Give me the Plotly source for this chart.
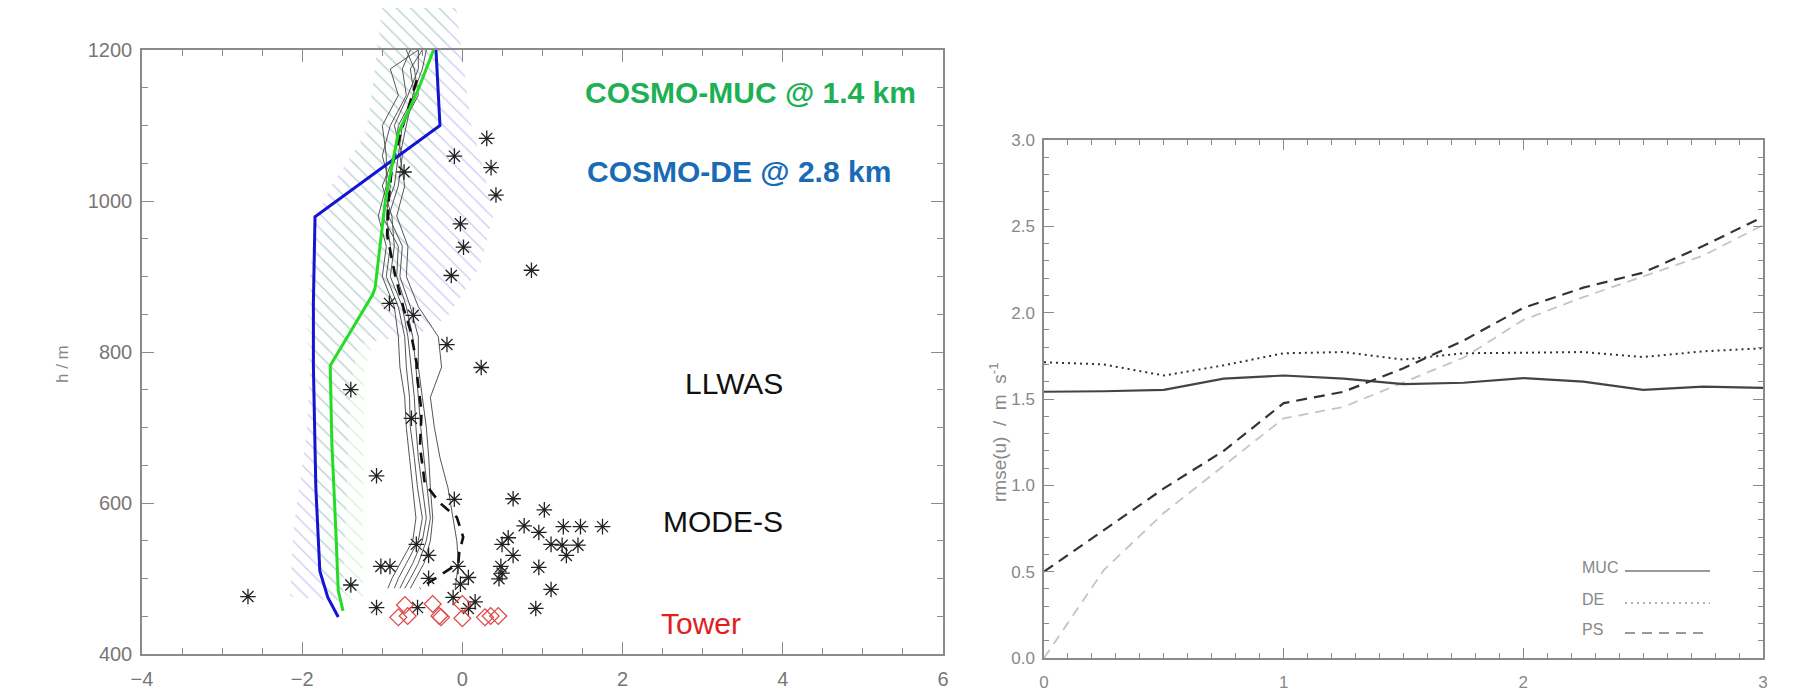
import plotly.graph_objects as go

# ---------------- Left panel data ----------------
# Ensemble spread bands (polygon outlines: left edge top->bottom, then right edge bottom->top)
de_band_u = [-1.0, -1.19, -1.65, -1.82, -1.9, -1.88, -1.94, -2.11, -2.15,
             -1.5, -1.45, -1.4, -1.3, -0.53, -0.19, 0.22, 0.38, 0.26, 0.11, -0.08]
de_band_h = [1258, 1090, 1019, 979, 913, 829, 697, 564, 476,
             470, 600, 750, 810, 825, 846, 913, 979, 1045, 1100, 1258]
muc_band_u = [-0.95, -1.2, -1.6, -1.9, -1.95, -1.85, -1.8, -1.75,
              -1.24, -1.24, -1.22, -1.0, -0.75, -0.45, -0.3, -0.15]
muc_band_h = [1258, 1100, 1000, 900, 830, 700, 560, 476,
              470, 600, 780, 840, 900, 1000, 1100, 1258]

# Model mean profiles
de_u = [-0.33, -0.28, -1.84, -1.86, -1.86, -1.83, -1.78, -1.68, -1.55]
de_h = [1200, 1100, 979, 867, 780, 621, 510, 475, 449]
muc_u = [-0.36, -0.55, -0.80, -0.96, -1.09, -1.12, -1.65, -1.63, -1.58, -1.55, -1.49]
muc_h = [1200, 1148, 1090, 1002, 885, 876, 782, 680, 563, 484, 457]

# Observation ensemble (thin grey) and its mean (dashed)
ens_h = [1200, 1175, 1140, 1100, 1060, 1020, 980, 940, 900, 860, 820,
         780, 740, 700, 660, 620, 580, 550, 520, 500, 487]
ens_1 = [-0.55, -0.90, -0.80, -1.00, -0.95, -0.95, -1.05, -0.95, -1.00, -0.85, -0.80,
         -0.78, -0.72, -0.70, -0.66, -0.62, -0.58, -0.62, -0.78, -0.88, -0.93]
ens_2 = [-0.65, -0.75, -0.70, -0.90, -1.00, -0.90, -0.95, -0.90, -0.95, -0.80, -0.72,
         -0.70, -0.66, -0.65, -0.60, -0.56, -0.50, -0.55, -0.70, -0.80, -0.85]
ens_3 = [-0.50, -0.65, -0.60, -0.80, -0.85, -1.00, -0.88, -0.85, -0.90, -0.75, -0.68,
         -0.64, -0.60, -0.58, -0.55, -0.50, -0.45, -0.50, -0.62, -0.72, -0.78]
ens_4 = [-0.70, -0.60, -0.55, -0.75, -0.80, -0.85, -1.00, -0.80, -0.82, -0.70, -0.62,
         -0.58, -0.55, -0.52, -0.48, -0.44, -0.40, -0.45, -0.55, -0.65, -0.72]
ens_5 = [-0.55, -0.55, -0.68, -0.85, -0.75, -0.80, -0.92, -0.75, -0.78, -0.65, -0.55,
         -0.55, -0.50, -0.45, -0.42, -0.40, -0.37, -0.40, -0.48, -0.58, -0.65]
ens_6 = [-0.45, -0.50, -0.62, -0.70, -0.78, -0.72, -0.82, -0.68, -0.70, -0.55, -0.30,
         -0.26, -0.40, -0.35, -0.28, -0.18, -0.12, -0.07, -0.05, -0.07, -0.09]
mean_u = [-0.57, -0.77, -0.88, -0.92, -0.94, -0.84, -0.73, -0.65, -0.57, -0.57,
          -0.51, -0.53, -0.50, -0.47, -0.28, -0.07, 0.01, -0.04, -0.05, -0.24, -0.53]
mean_h = [1160, 1090, 1045, 1002, 955, 902, 856, 829, 785, 772,
          721, 674, 651, 626, 600, 581, 555, 534, 520, 507, 487]

# MODE-S observations (asterisks)
modes_u = [0.304, -0.10, 0.358, -0.728, 0.419, -0.025, 0.014, -0.139, 0.862, -0.911,
           -0.613, -0.193, 0.235, -1.393, -0.636, -1.072, -0.101, 0.633, 1.023, 0.771,
           1.26, 1.474, 1.749, 0.954, 0.572, 0.495, 1.107, 1.245, 1.443, -0.575,
           0.633, 1.298, -0.422, -1.018, -0.904, -0.055, 0.48, 0.954, 0.495, 0.457,
           0.075, -0.422, -0.025, -1.393, 1.107, -0.116, -2.677, 0.159, -1.072, -0.56,
           0.075, 0.916]
modes_h = [1082.9, 1059.4, 1044.2, 1038.4, 1007.9, 969.8, 938.8, 901.3, 908.3, 864.4,
           848.6, 809.9, 779.5, 750.2, 712.2, 636.0, 604.9, 605.6, 590.9, 569.8,
           568.7, 568.7, 568.7, 561.0, 554.0, 545.2, 545.2, 544.1, 544.1, 545.2,
           530.6, 530.6, 530.6, 516.0, 516.0, 516.0, 516.0, 514.8, 507.2, 499.6,
           501.3, 500.1, 492.5, 491.4, 485.5, 474.9, 476.1, 469.1, 461.5, 461.5,
           460.3, 460.3]

# Tower observations (diamonds)
tower_u = [-0.717, -0.80, -0.683, -0.371, -0.288, -0.267, -0.001, -0.001, 0.282, 0.353, 0.448]
tower_h = [464.9, 448.6, 450.3, 466.2, 450.3, 448.6, 466.2, 447.3, 448.6, 450.3, 450.3]

# ---------------- Right panel data ----------------
dist = [0, 0.25, 0.5, 0.75, 1.0, 1.25, 1.5, 1.75, 2.0, 2.25, 2.5, 2.75, 3.0]
rmse_muc = [1.542, 1.545, 1.553, 1.618, 1.636, 1.618, 1.586, 1.594, 1.621, 1.601, 1.553, 1.572, 1.564]
rmse_de = [1.713, 1.70, 1.636, 1.695, 1.765, 1.772, 1.728, 1.765, 1.768, 1.772, 1.743, 1.776, 1.794]
rmse_ps = [0.50, 0.741, 0.982, 1.20, 1.476, 1.542, 1.678, 1.838, 2.028, 2.145, 2.232, 2.386, 2.555]
rmse_ps2 = [0.0, 0.51, 0.84, 1.114, 1.388, 1.454, 1.596, 1.739, 1.958, 2.09, 2.21, 2.33, 2.507]

legend_names = ["MUC", "DE", "PS"]
legend_dash = ["solid", "2px,4px", "10px,7px"]

# ---------------- Figure ----------------
# The page body has an 8px margin, so the figure is placed at page (8, 8).
OFF = 8
W, H = 1781, 686


def px(x):
    return (x - OFF) / W


def py(y):
    return 1 - (y - OFF) / H


fig = go.Figure()

# hatched bands on an invisible axis pair that extends above the plot box
fig.add_trace(go.Scatter(x=de_band_u, y=de_band_h, xaxis="x", yaxis="y", mode="none",
                         fill="toself", fillcolor="rgba(255,255,255,0)",
                         fillpattern=dict(shape="\\", fgcolor="rgb(150,150,238)",
                                          bgcolor="rgba(255,255,255,0)", size=10, solidity=0.13),
                         hoverinfo="skip", showlegend=False))
fig.add_trace(go.Scatter(x=muc_band_u, y=muc_band_h, xaxis="x", yaxis="y", mode="none",
                         fill="toself", fillcolor="rgba(255,255,255,0)",
                         fillpattern=dict(shape="\\", fgcolor="rgb(170,232,170)",
                                          bgcolor="rgba(255,255,255,0)", size=10, solidity=0.13),
                         hoverinfo="skip", showlegend=False))

for e in [ens_1, ens_2, ens_3, ens_4, ens_5, ens_6]:
    fig.add_trace(go.Scatter(x=e, y=ens_h, xaxis="x2", yaxis="y2", mode="lines",
                             line=dict(color="#555555", width=1), showlegend=False))
fig.add_trace(go.Scatter(x=mean_u, y=mean_h, xaxis="x2", yaxis="y2", mode="lines",
                         line=dict(color="#111111", width=2.6, dash="11px,8px"), showlegend=False))
fig.add_trace(go.Scatter(x=de_u, y=de_h, xaxis="x2", yaxis="y2", mode="lines",
                         line=dict(color="#1414d2", width=3), showlegend=False))
fig.add_trace(go.Scatter(x=muc_u, y=muc_h, xaxis="x2", yaxis="y2", mode="lines",
                         line=dict(color="#22dd22", width=3), showlegend=False))
fig.add_trace(go.Scatter(x=modes_u, y=modes_h, xaxis="x2", yaxis="y2", mode="markers",
                         marker=dict(symbol="asterisk-open", size=13, color="#222222",
                                     line=dict(color="#222222", width=1.3)),
                         showlegend=False))
fig.add_trace(go.Scatter(x=tower_u, y=tower_h, xaxis="x2", yaxis="y2", mode="markers",
                         marker=dict(symbol="diamond-open", size=13, color="#e04545",
                                     line=dict(color="#e04545", width=1.2)),
                         showlegend=False))

# right panel
fig.add_trace(go.Scatter(x=dist, y=rmse_ps2, xaxis="x3", yaxis="y3", mode="lines",
                         line=dict(color="#c4c4c4", width=1.8, dash="10px,7px"), showlegend=False))
fig.add_trace(go.Scatter(x=dist, y=rmse_muc, xaxis="x3", yaxis="y3", mode="lines",
                         line=dict(color="#444444", width=2.2), showlegend=False))
fig.add_trace(go.Scatter(x=dist, y=rmse_de, xaxis="x3", yaxis="y3", mode="lines",
                         line=dict(color="#333333", width=2, dash="2px,4px"), showlegend=False))
fig.add_trace(go.Scatter(x=dist, y=rmse_ps, xaxis="x3", yaxis="y3", mode="lines",
                         line=dict(color="#333333", width=2.2, dash="11px,7px"), showlegend=False))

# geometry (page pixels of the reference)
lx0, lx1 = px(142), px(943)
ly0, ly1 = py(654), py(50)
rx0, rx1 = px(1044), px(1763)
ry0, ry1 = py(658), py(140)
ext_top = 400 + (654 - OFF) / (604 / 800)

AX = "#8a8a8a"
base_font_left = dict(family="Liberation Sans, Arial", size=20, color="#777777")
base_font_right = dict(family="Liberation Sans, Arial", size=17, color="#888888")


def axis_common(font, major_len):
    return dict(showline=True, linecolor=AX, linewidth=1.5, mirror="ticks",
                ticks="inside", ticklen=major_len, tickwidth=1.2, tickcolor=AX,
                showgrid=False, zeroline=False, tickfont=font, automargin=False)


fig.update_layout(
    width=W, height=H, margin=dict(l=0, r=0, t=0, b=0, autoexpand=False),
    paper_bgcolor="white", plot_bgcolor="rgba(0,0,0,0)", showlegend=False,
    xaxis=dict(domain=[lx0, lx1], range=[-4, 6], visible=False, anchor="y", automargin=False),
    yaxis=dict(domain=[ly0, 1.0], range=[400, ext_top], visible=False, anchor="x", automargin=False),
    xaxis2=dict(domain=[lx0, lx1], range=[-4, 6], anchor="y2", dtick=2,
                minor=dict(dtick=0.5, ticklen=6, ticks="inside", tickcolor=AX, tickwidth=1.2),
                ticklabelstandoff=6,
                **axis_common(base_font_left, 12)),
    yaxis2=dict(domain=[ly0, ly1], range=[400, 1200], anchor="x2", dtick=200,
                minor=dict(dtick=50, ticklen=6, ticks="inside", tickcolor=AX, tickwidth=1.2),
                ticklabelstandoff=4,
                **axis_common(base_font_left, 12)),
    xaxis3=dict(domain=[rx0, rx1], range=[0, 3], anchor="y3", dtick=1,
                minor=dict(dtick=0.1, ticklen=5, ticks="inside", tickcolor=AX, tickwidth=1.2),
                ticklabelstandoff=8,
                **axis_common(base_font_right, 10)),
    yaxis3=dict(domain=[ry0, ry1], range=[0, 3], anchor="x3", dtick=0.5, tickformat=".1f",
                minor=dict(dtick=0.1, ticklen=5, ticks="inside", tickcolor=AX, tickwidth=1.2),
                ticklabelstandoff=4,
                **axis_common(base_font_right, 10)),
)

ann = []
ann.append(dict(text="COSMO-MUC @ 1.4 km", x=px(583), y=py(93), xref="paper", yref="paper",
                xanchor="left", yanchor="middle", showarrow=False,
                font=dict(family="Liberation Sans, Arial", size=30, color="#1db054", weight="bold")))
ann.append(dict(text="COSMO-DE @ 2.8 km", x=px(585), y=py(172), xref="paper", yref="paper",
                xanchor="left", yanchor="middle", showarrow=False,
                font=dict(family="Liberation Sans, Arial", size=30, color="#1a6bb5", weight="bold")))
for txt, cx, cy, col in [("LLWAS", 734, 384, "#111111"), ("MODE-S", 723, 521, "#111111"),
                         ("Tower", 701, 623, "#e0201e")]:
    ann.append(dict(text=txt, x=px(cx), y=py(cy), xref="paper", yref="paper",
                    xanchor="center", yanchor="middle", showarrow=False,
                    font=dict(family="Liberation Sans, Arial", size=30, color=col)))
ann.append(dict(text="h / m", x=px(62), y=py(364), xref="paper", yref="paper",
                xanchor="center", yanchor="middle", textangle=-90, showarrow=False,
                font=dict(family="Liberation Sans, Arial", size=17, color="#888888")))
ann.append(dict(text="rmse(u)  /  m  s<sup>-1</sup>", x=px(998), y=py(432),
                xref="paper", yref="paper", xanchor="center", yanchor="middle",
                textangle=-90, showarrow=False,
                font=dict(family="Liberation Sans, Arial", size=19, color="#888888")))

shapes = []
leg_y = [567, 599, 629]
for name, dsh, yy in zip(legend_names, legend_dash, leg_y):
    ann.append(dict(text=name, x=px(1580), y=py(yy), xref="paper", yref="paper",
                    xanchor="left", yanchor="middle", showarrow=False,
                    font=dict(family="Liberation Sans, Arial", size=16, color="#888888")))
    shapes.append(dict(type="line", xref="paper", yref="paper", x0=px(1625), x1=px(1710),
                       y0=py(yy + 4), y1=py(yy + 4),
                       line=dict(color="#999999", width=2 if dsh != "2px,4px" else 1.5, dash=dsh)))

fig.update_layout(annotations=ann, shapes=shapes)
fig.write_html("out.html")
